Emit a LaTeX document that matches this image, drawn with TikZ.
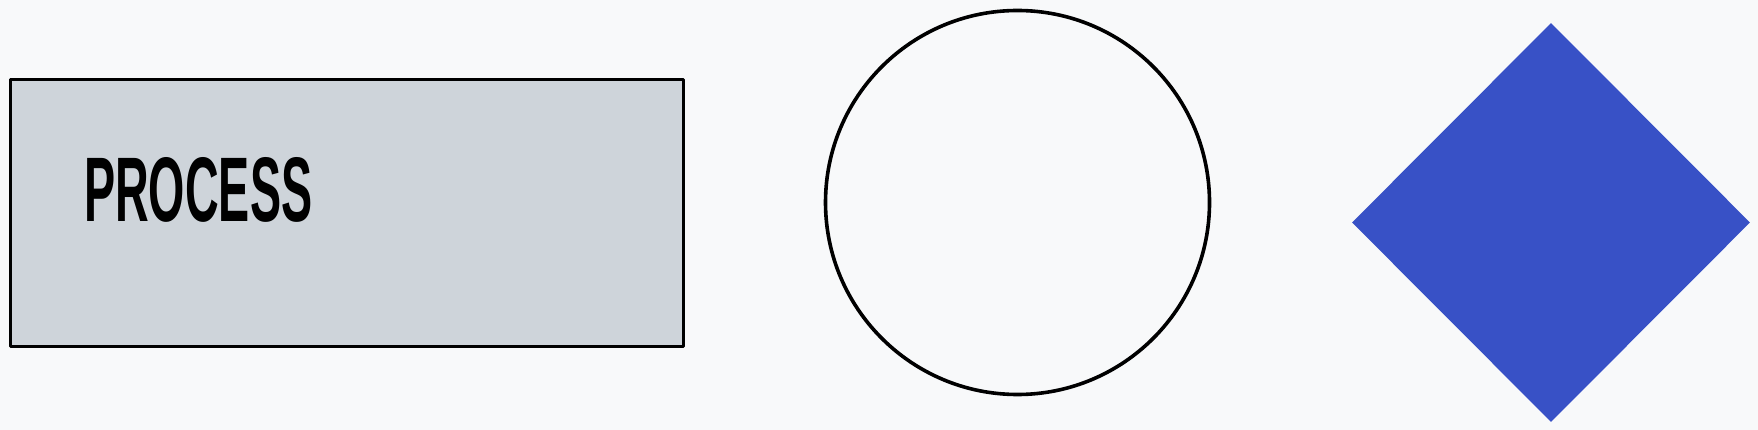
\documentclass[tikz,border=0pt]{standalone}
\usepackage{fontspec}
\setmainfont{Liberation Sans}
\usepackage{graphicx}
\usetikzlibrary{shapes.geometric}

\definecolor{canvas}{HTML}{F8F9FA}
\definecolor{procgray}{HTML}{CED4DA}
\definecolor{decblue}{RGB}{56,81,198}

\begin{document}
\begin{tikzpicture}[
  x=1pt, y=-1pt,
  procbox/.style={draw, line width=3.6pt, fill=procgray, rectangle, minimum width=673pt, minimum height=267pt, inner sep=0pt, line join=round},
  roundnode/.style={draw, line width=3.6pt, circle, minimum size=384pt, inner sep=0pt},
  decnode/.style={diamond, fill=decblue, minimum width=398pt, minimum height=399pt, inner sep=0pt},
  lbl/.style={inner sep=0pt, anchor=north west}
]
  % canvas
  \fill[canvas] (0,0) rectangle (1758,430);
  \useasboundingbox (0,0) rectangle (1758,430);

  \node[procbox] (proc) at (347,213) {};
  \node[lbl] (proclbl) at (84,157) {\resizebox{228pt}{64pt}{\bfseries PROCESS}};
  \node[roundnode] (circ) at (1017.5,202.5) {};
  \node[decnode] (dec) at (1551,222.5) {};
\end{tikzpicture}
\end{document}
